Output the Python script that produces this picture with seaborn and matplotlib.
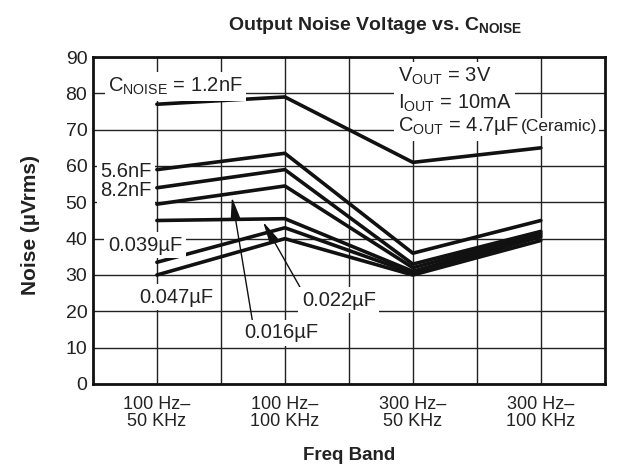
import pandas as pd
import matplotlib
matplotlib.use("Agg")
import matplotlib.pyplot as plt
import seaborn as sns

# values
bands = ["100 Hz–\n50 KHz", "100 Hz–\n100 KHz", "300 Hz–\n50 KHz", "300 Hz–\n100 KHz"]
caps = ["1.2nF", "5.6nF", "8.2nF", "0.016µF", "0.022µF", "0.039µF", "0.047µF"]
noise_1n2 = [77, 79, 61, 65]
noise_5n6 = [59, 63.5, 36, 45]
noise_8n2 = [54, 59, 33, 42]
noise_16n = [49.5, 54.5, 32, 41.5]
noise_22n = [45, 45.5, 31, 41]
noise_39n = [33.5, 43, 30.5, 40.5]
noise_47n = [30, 40, 30, 39.5]
yticks = list(range(0, 100, 10))

series = [noise_1n2, noise_5n6, noise_8n2, noise_16n, noise_22n, noise_39n, noise_47n]
rows = []
for cap, vals in zip(caps, series):
    for band, v in zip(bands, vals):
        rows.append({"Band": band, "Noise": v, "Cap": cap})
df = pd.DataFrame(rows)

sns.set_theme(style="white")
plt.rcParams["font.family"] = ["Liberation Sans", "DejaVu Sans"]
plt.rcParams["mathtext.fontset"] = "custom"
plt.rcParams["mathtext.rm"] = "Liberation Sans"
plt.rcParams["mathtext.bf"] = "Liberation Sans:bold"
plt.rcParams["mathtext.it"] = "Liberation Sans"

fig = plt.figure(figsize=(6.32, 4.68), dpi=100)
ax = fig.add_axes([0.147, 0.1795, 0.810, 0.6987])

sns.lineplot(data=df, x="Band", y="Noise", hue="Cap", palette=["#111111"] * len(caps),
             sort=False, legend=False, lw=2.6, ax=ax, zorder=3)

ax.set_xlim(-0.5, 3.5)
ax.set_ylim(0, 90)
ax.set_xticks(range(len(bands)))
ax.set_xticklabels(bands, fontsize=13, linespacing=0.95, color="#222222")
ax.set_xticks([0.5, 1.5, 2.5], minor=True)
ax.set_yticks(yticks)
ax.set_yticklabels([str(t) for t in yticks], fontsize=14, color="#222222")
ax.tick_params(axis="both", which="both", length=0)
ax.tick_params(axis="x", pad=9)
ax.tick_params(axis="y", pad=4)
ax.grid(True, which="both", color="#222222", lw=1.0, zorder=1)
ax.set_axisbelow(True)
for sp in ax.spines.values():
    sp.set_color("#111111")
    sp.set_linewidth(2.0)
ax.set_xlabel("")
ax.set_ylabel("")

box = dict(facecolor="white", edgecolor="none", pad=2.5)
lab = dict(fontsize=14.5, color="#222222", ha="left", va="baseline", bbox=box, zorder=5)

ax.text(-0.38, 80.4, r"C$_{\mathrm{NOISE}}$ = 1.2nF", **lab)
ax.text(1.883, 83.2, r"V$_{\mathrm{OUT}}$ = 3V", **lab)
ax.text(1.883, 75.8, r"I$_{\mathrm{OUT}}$ = 10mA", **lab)
ax.text(1.883, 69.5, r"C$_{\mathrm{OUT}}$ = 4.7µF", **lab)
ax.text(2.845, 69.5, "(Ceramic)", fontsize=12.5, color="#222222", ha="left",
        va="baseline", bbox=dict(facecolor="white", edgecolor="none", pad=1.0), zorder=4)

ax.text(-0.445, 56.9, "5.6nF", **lab)
ax.text(-0.445, 51.7, "8.2nF", **lab)
ax.text(-0.383, 36.7, "0.039µF", **lab)
ax.text(-0.14, 22.4, "0.047µF", **lab)

arrow = dict(arrowstyle="-|>,head_length=0.9,head_width=0.2", lw=1.0, color="#111111",
             shrinkA=0, shrinkB=0)
ax.annotate("0.016µF", xy=(0.586, 51.4), xytext=(0.68, 12.6),
            arrowprops=dict(arrow, relpos=(0.12, 1.0)), **lab)
ax.annotate("0.022µF", xy=(0.83, 44.6), xytext=(1.133, 21.6),
            arrowprops=dict(arrow, relpos=(0.0, 1.0)), **lab)

fig.text(375 / 632, 1 - 25 / 468, r"Output Noise Voltage vs. C$_{\mathbf{NOISE}}$",
         fontsize=14, fontweight="bold", color="#222222", ha="center", va="center")
fig.text(30 / 632, 1 - 225 / 468, "Noise (µVrms)", fontsize=15, fontweight="bold",
         color="#222222", rotation=90, ha="center", va="center")
fig.text(349 / 632, 1 - 455 / 468, "Freq Band", fontsize=13.5, fontweight="bold",
         color="#222222", ha="center", va="center")

fig.savefig("out.png", dpi=100)
